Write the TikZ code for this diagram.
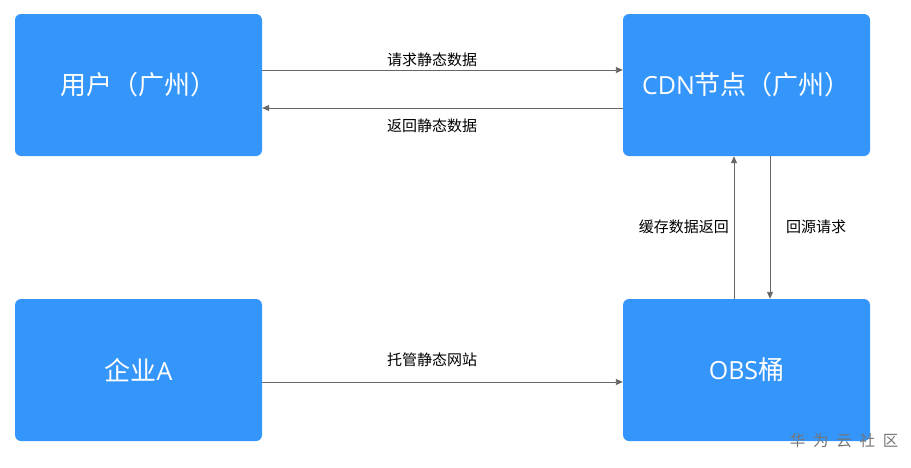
\documentclass[tikz,border=0pt]{standalone}
\usepackage{fontspec}
\setmainfont{Noto Sans CJK SC}
\newfontfamily\latf{Open Sans}
\usetikzlibrary{arrows.meta}
\definecolor{boxblue}{HTML}{3496FA}
\definecolor{linegray}{HTML}{666666}
\definecolor{wmgray}{HTML}{757575}
\tikzset{
  px/.style={x=1pt,y=-1pt},
  bluebox/.style={fill=boxblue,draw=none,rounded corners=6pt,minimum width=247pt,minimum height=142pt,inner sep=0pt,text=white,font=\fontsize{26}{30}\selectfont},
  conn/.style={draw=linegray,line width=0.9pt,-{Triangle[length=7pt,width=6pt]}},
  lbl/.style={font=\fontsize{15}{18}\selectfont,text=black,inner sep=0pt}
}
\begin{document}
\begin{tikzpicture}[px]
\useasboundingbox (0,0) rectangle (911,467);
\node[bluebox] (user) at (138.5,85) {用户（广州）};
\node[bluebox] (cdn) at (746.5,85) {{\latf\fontsize{25}{30}\selectfont CDN}节点（广州）};
\node[bluebox] (corp) at (138.5,370) {企业{\latf\fontsize{25}{30}\selectfont A}};
\node[bluebox] (obs) at (746.5,370) {{\latf\fontsize{25}{30}\selectfont OBS}桶};
\coordinate (a1) at (262,70); \coordinate (a2) at (623,70);
\coordinate (b1) at (623,108); \coordinate (b2) at (262,108);
\coordinate (c1) at (262,382); \coordinate (c2) at (623,382);
\coordinate (d1) at (734,299); \coordinate (d2) at (734,156);
\coordinate (e1) at (770,156); \coordinate (e2) at (770,299);
\draw[conn] (user.east |- a1) -- (cdn.west |- a2);
\draw[conn] (cdn.west |- b1) -- (user.east |- b2);
\draw[conn] (corp.east |- c1) -- (obs.west |- c2);
\draw[conn] (obs.north -| d1) -- (cdn.south -| d2);
\draw[conn] (cdn.south -| e1) -- (obs.north -| e2);
\node[lbl] (l1) at (432,60) {请求静态数据};
\node[lbl] (l2) at (432,126) {返回静态数据};
\node[lbl] (l3) at (432,360) {托管静态网站};
\node[lbl,anchor=east] (l4) at (729,227) {缓存数据返回};
\node[lbl,anchor=west] (l5) at (786,227) {回源请求};
\node[font=\fontsize{15.5}{18}\selectfont,text=wmgray,inner sep=0pt] (wm) at (844,441) {华\hspace{0.5em}为\hspace{0.5em}云\hspace{0.5em}社\hspace{0.5em}区};
\end{tikzpicture}
\end{document}
